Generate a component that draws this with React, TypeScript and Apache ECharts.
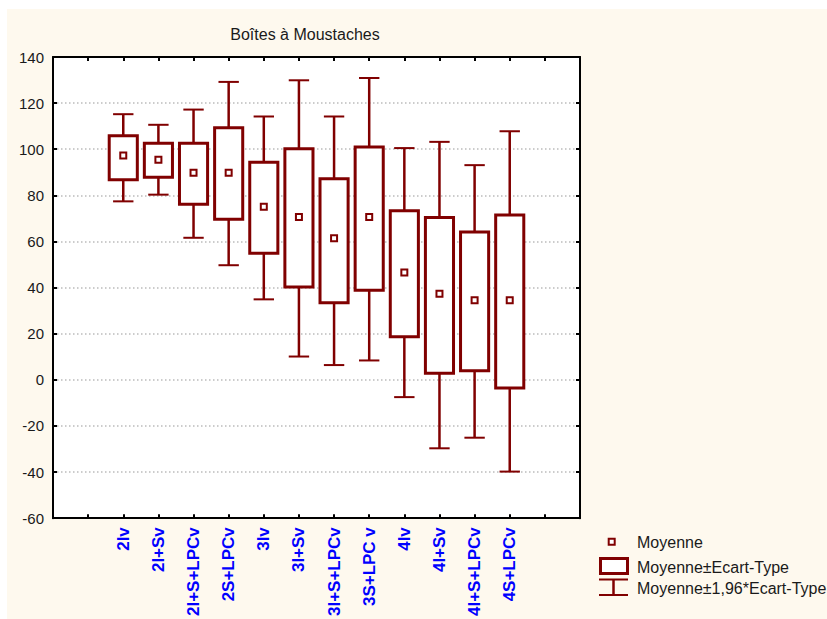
import React, { useEffect, useRef } from "react";
import * as echarts from "echarts";

const categories = ["2Iv", "2I+Sv", "2I+S+LPCv", "2S+LPCv", "3Iv", "3I+Sv", "3I+S+LPCv", "3S+LPC v", "4Iv", "4I+Sv", "4I+S+LPCv", "4S+LPCv"];
const means = [97.3, 95.4, 89.8, 89.8, 75.1, 70.6, 61.4, 70.6, 46.5, 37.3, 34.5, 34.5];
const boxLow = [86.8, 87.9, 76.1, 69.6, 54.9, 40.3, 33.4, 38.8, 18.7, 2.9, 3.9, -3.6];
const boxHigh = [105.8, 102.6, 102.6, 109.3, 94.4, 100.2, 87.2, 101.0, 73.3, 70.4, 64.1, 71.5];
const whiskerLow = [77.4, 80.3, 61.6, 49.7, 34.9, 10.1, 6.4, 8.4, -7.5, -29.7, -25.1, -39.8];
const whiskerHigh = [115.2, 110.6, 117.2, 129.2, 114.2, 129.9, 114.2, 130.9, 100.5, 103.2, 93.1, 107.8];
const yTicks = { min: -60, max: 140, interval: 20 };
const titleText = "Boîtes à Moustaches";
const legendLabels = ["Moyenne", "Moyenne±Ecart-Type", "Moyenne±1,96*Ecart-Type"];

const MAROON = "#800000";
const FONT = "'Liberation Sans', Arial, sans-serif";

export default function App() {
  const ref = useRef<HTMLDivElement>(null);
  useEffect(() => {
    if (!ref.current) return;
    const chart = echarts.init(ref.current, null, { renderer: "svg" });
    const data = categories.map((_, i) => [i + 2, means[i], boxLow[i], boxHigh[i], whiskerLow[i], whiskerHigh[i]]);
    const frameLine = { show: true, onZero: false, lineStyle: { color: "#000", width: 2 } };
    const frameTick = { show: true, inside: true, length: 4, lineStyle: { color: "#000", width: 2 } };
    const option: any = {
      animation: false,
      backgroundColor: "#FEF9EE",
      textStyle: { fontFamily: FONT },
      grid: { left: 53, right: 247, top: 57, bottom: 100, show: true, backgroundColor: "#ffffff", borderWidth: 0 },
      xAxis: [
        {
          type: "value", position: "bottom", min: 0, max: categories.length + 3, interval: 1,
          axisLine: frameLine,
          axisTick: frameTick,
          splitLine: { show: false },
          axisLabel: {
            rotate: 90, margin: 9, color: "#0000FF", fontWeight: "bold", fontSize: 17, fontFamily: FONT,
            formatter: (v: number) => categories[v - 2] ?? "",
          },
        },
        {
          type: "value", position: "top", min: 0, max: categories.length + 3, interval: 1,
          axisLine: frameLine,
          axisTick: frameTick,
          splitLine: { show: false },
          axisLabel: { show: false },
        },
      ],
      yAxis: [
        {
          type: "value", position: "left", min: yTicks.min, max: yTicks.max, interval: yTicks.interval,
          axisLine: frameLine,
          axisTick: frameTick,
          splitLine: { show: true, lineStyle: { color: "#cccccc", width: 2, type: [1.5, 2.5] } },
          axisLabel: { margin: 9, color: "#1a1a1a", fontSize: 15, fontFamily: FONT },
        },
        {
          type: "value", position: "right", min: yTicks.min, max: yTicks.max, interval: yTicks.interval,
          axisLine: frameLine,
          axisTick: frameTick,
          splitLine: { show: false },
          axisLabel: { show: false },
        },
      ],
      series: [
        {
          type: "custom",
          xAxisIndex: 0,
          yAxisIndex: 0,
          data,
          encode: { x: 0, y: [1, 2, 3, 4, 5] },
          renderItem: (params: any, api: any) => {
            const x = api.value(0);
            const slot = api.size([1, 0])[0];
            const bw = slot * 0.8;
            const cw = slot * 0.58;
            const pm = api.coord([x, api.value(1)]);
            const pbl = api.coord([x, api.value(2)]);
            const pbh = api.coord([x, api.value(3)]);
            const pwl = api.coord([x, api.value(4)]);
            const pwh = api.coord([x, api.value(5)]);
            const cx = pm[0];
            return {
              type: "group",
              children: [
                { type: "line", shape: { x1: cx, y1: pwh[1], x2: cx, y2: pwl[1] }, style: { stroke: MAROON, lineWidth: 2.5 } },
                { type: "line", shape: { x1: cx - cw / 2, y1: pwh[1], x2: cx + cw / 2, y2: pwh[1] }, style: { stroke: MAROON, lineWidth: 2 } },
                { type: "line", shape: { x1: cx - cw / 2, y1: pwl[1], x2: cx + cw / 2, y2: pwl[1] }, style: { stroke: MAROON, lineWidth: 2 } },
                { type: "rect", shape: { x: cx - bw / 2, y: pbh[1], width: bw, height: pbl[1] - pbh[1] }, style: { fill: "#fff", stroke: MAROON, lineWidth: 3 } },
                { type: "rect", shape: { x: cx - 3, y: pm[1] - 3, width: 6, height: 6 }, style: { fill: "#fff", stroke: MAROON, lineWidth: 2 } },
              ],
            };
          },
        },
      ],
      graphic: [
        { type: "rect", shape: { x: 0, y: 0, width: 827, height: 9 }, style: { fill: "#ffffff" }, silent: true },
        { type: "rect", shape: { x: 0, y: 0, width: 7, height: 619 }, style: { fill: "#ffffff" }, silent: true },
        { type: "text", x: 305, y: 34, style: { text: titleText, fill: "#1a1a1a", font: `16px ${FONT}`, textAlign: "center", textVerticalAlign: "middle" } },
        { type: "rect", shape: { x: 608.7, y: 538.7, width: 6, height: 6 }, style: { fill: "#fff", stroke: MAROON, lineWidth: 2 } },
        { type: "text", x: 637, y: 542, style: { text: legendLabels[0], fill: "#1a1a1a", font: `16px ${FONT}`, textVerticalAlign: "middle" } },
        { type: "rect", shape: { x: 600.5, y: 558.5, width: 27, height: 15 }, style: { fill: "#fff", stroke: MAROON, lineWidth: 3 } },
        { type: "text", x: 637, y: 567, style: { text: legendLabels[1], fill: "#1a1a1a", font: `16px ${FONT}`, textVerticalAlign: "middle" } },
        { type: "line", shape: { x1: 599, y1: 579.5, x2: 628, y2: 579.5 }, style: { stroke: MAROON, lineWidth: 2 } },
        { type: "line", shape: { x1: 613.5, y1: 579.5, x2: 613.5, y2: 595 }, style: { stroke: MAROON, lineWidth: 2.5 } },
        { type: "line", shape: { x1: 599, y1: 595, x2: 628, y2: 595 }, style: { stroke: MAROON, lineWidth: 2 } },
        { type: "text", x: 637, y: 588, style: { text: legendLabels[2], fill: "#1a1a1a", font: `16px ${FONT}`, textVerticalAlign: "middle" } },
      ],
    };
    chart.setOption(option);
    return () => chart.dispose();
  }, []);
  return <div ref={ref} style={{ position: "fixed", left: 0, top: 0, width: 827, height: 619 }} />;
}
